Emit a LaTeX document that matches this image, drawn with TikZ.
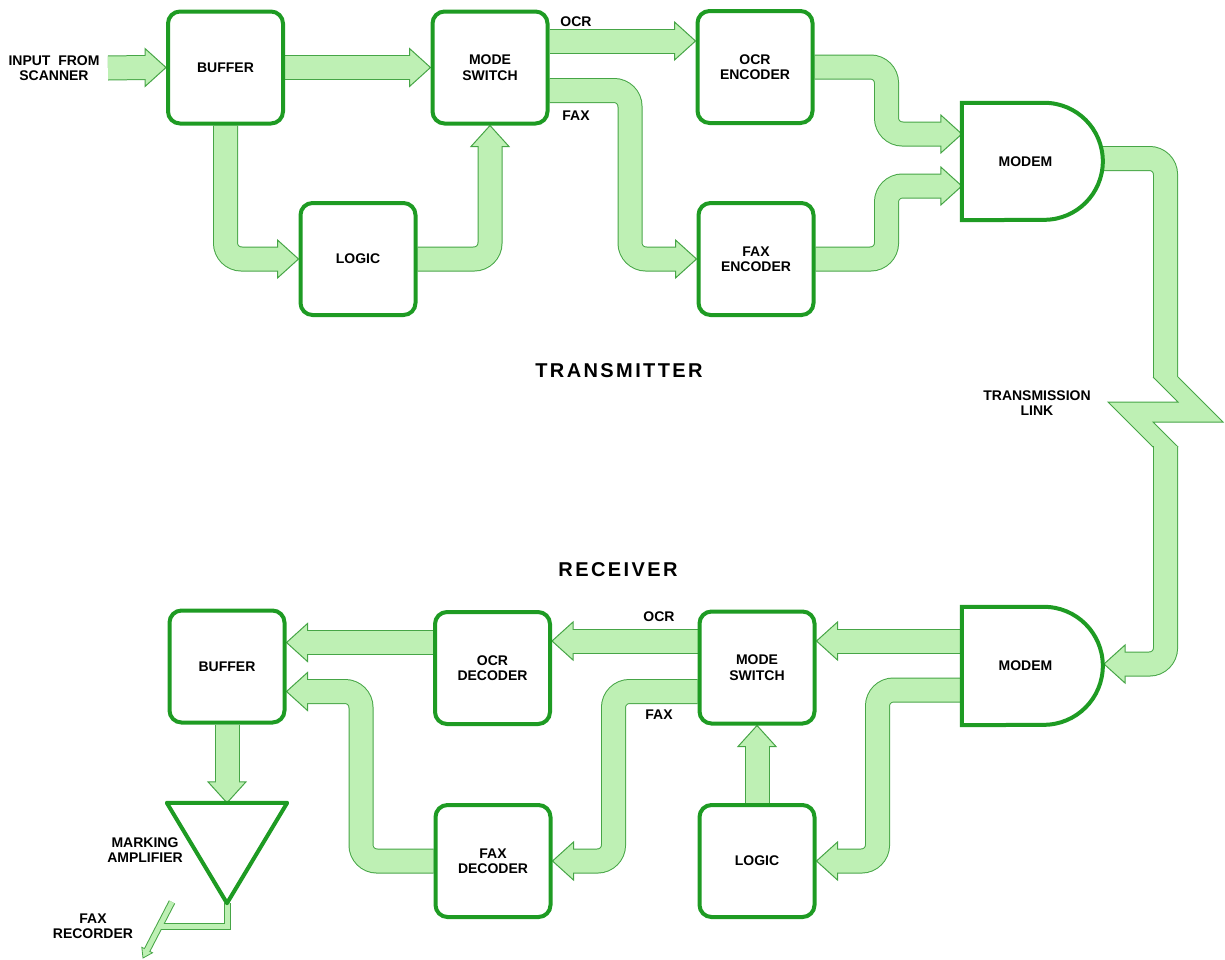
\documentclass[tikz,border=0pt]{standalone}
\usepackage{fontspec}
\setmainfont{Liberation Sans}
\newfontfamily\bigfont[LetterSpace=12]{Liberation Sans}
\usetikzlibrary{calc}
\pgfdeclarelayer{bg}
\pgfsetlayers{bg,main}
\definecolor{boxg}{RGB}{30,155,35}
\definecolor{bandf}{RGB}{190,240,180}
\definecolor{bandl}{RGB}{70,165,70}
\newcommand\AL{21}
\newcommand\AH{19}
\newcommand\bandarrow[4]{%
  \path (#3) ++({-\AL*(#1)},{-\AL*(#2)}) coordinate (bb);
  \draw[bandouter] #4 (bb);
  \filldraw[bandhead] (#3) -- ($(bb)+({\AH*(#2)},{-\AH*(#1)})$) -- ($(bb)+({-\AH*(#2)},{\AH*(#1)})$) -- cycle;
  \draw[bandinner, shorten >=-1.5pt] #4 (bb);
}
\tikzset{
  box/.style={draw=boxg, line width=4pt, rounded corners=12pt, fill=white,
    minimum width=115pt, minimum height=112pt, align=center, font=\lblfont},
  hold/.style={draw=none, inner sep=0pt},
  boxline/.style={draw=boxg, fill=white, line width=4pt},
  lbl/.style={align=center, font=\lblfont},
  big/.style={font=\bigfont\fontsize{20}{24}\selectfont\bfseries},
  bandouter/.style={line width=25pt, draw=bandl, rounded corners=16pt},
  bandinner/.style={line width=23pt, draw=bandf, rounded corners=16pt},
  bandhead/.style={fill=bandf, draw=bandl, line width=1pt, line join=miter},
  thinout/.style={line width=7pt, draw=bandl},
  thinin/.style={line width=5pt, draw=bandf},
}
\newcommand\lblfont{\fontsize{14}{15.5}\selectfont\bfseries}
\begin{document}
\begin{tikzpicture}[x=1pt,y=1pt]
\useasboundingbox (0,0) rectangle (1225,-959);
% transmitter nodes
\node[box] (bufA) at (225.5,-67.5) {BUFFER};
\node[box] (msA) at (490,-67.5) {MODE\\SWITCH};
\node[box] (lgcA) at (358,-259) {LOGIC};
\node[box] (ocre) at (755,-67) {OCR\\ENCODER};
\node[box] (faxe) at (756,-259) {FAX\\ENCODER};
\node[hold, minimum width=141pt, minimum height=117pt] (modA) at (1032.5,-161.5) {};
\draw[boxline] (modA.south west) -- (modA.north west) -- ++(82.5,0) arc[start angle=90,end angle=-90,radius=58.5] -- cycle;
\node[lbl] (modAt) at ($(modA.center)+(-7,0)$) {MODEM};
% receiver nodes
\node[box] (bufB) at (227,-666.5) {BUFFER};
\node[box] (ocrd) at (492.5,-668) {OCR\\DECODER};
\node[box] (faxd) at (493,-861) {FAX\\DECODER};
\node[box] (msB) at (757,-667.5) {MODE\\SWITCH};
\node[box] (lgcB) at (757,-861) {LOGIC};
\node[hold, minimum width=141pt, minimum height=118pt] (modB) at (1032.5,-666) {};
\draw[boxline] (modB.south west) -- (modB.north west) -- ++(82,0) arc[start angle=90,end angle=-90,radius=59] -- cycle;
\node[lbl] (modBt) at ($(modB.center)+(-7,0)$) {MODEM};
\node[hold, minimum width=120pt, minimum height=100pt] (amp) at (227,-853) {};
\draw[boxline, line join=round] (amp.north west) -- (amp.north east) -- (amp.south) -- cycle;
% labels
\node[lbl] (inlbl) at (54,-68) {INPUT\ \ FROM\\SCANNER};
\node[lbl] (tocr) at (576,-22) {OCR};
\node[lbl] (tfax) at (576,-116) {FAX};
\node[big] (ttx) at (619,-371) {TRANSMITTER};
\node[big] (trx) at (618,-570) {RECEIVER};
\node[lbl] (tlink) at (1037,-403) {TRANSMISSION\\LINK};
\node[lbl] (rocr) at (659,-617) {OCR};
\node[lbl] (rfax) at (659,-715) {FAX};
\node[lbl] (tamp) at (145,-850) {MARKING\\AMPLIFIER};
\node[lbl] (trec) at (93,-926) {FAX\\RECORDER};
\coordinate (inp) at (108,-68);
\coordinate (rec) at (143,-958);
\coordinate (recs) at (172,-902);
\begin{pgfonlayer}{bg}
% transmitter bands
\bandarrow{1}{0}{bufA.west}{(inp) --}
\bandarrow{1}{0}{msA.west}{(bufA.east) --}
\bandarrow{1}{0}{lgcA.west}{(bufA.south) -- (bufA.south |- lgcA.west) --}
\bandarrow{0}{1}{msA.south}{(lgcA.east) -- (lgcA.east -| msA.south) --}
\bandarrow{1}{0}{$(ocre.west)+(0,26)$}{($(msA.east)+(0,26.5)$) --}
\bandarrow{1}{0}{faxe.west}{($(msA.east)+(0,-23)$) -- (630,-90.5) -- (630,-259) --}
\bandarrow{1}{0}{$(modA.west)+(0,27.5)$}{(ocre.east) -- (886.5,-67) -- (886.5,-134) --}
\bandarrow{1}{0}{$(modA.west)+(0,-24.5)$}{(faxe.east) -- (886.5,-259) -- (886.5,-186) --}
% transmission link
\draw[bandouter] (1095,-158.5) -- (1165.5,-158.5) -- (1165.5,-378);
\draw[bandinner] (1095,-158.5) -- (1165.5,-158.5) -- (1165.5,-379);
\fill[bandf] (1153,-377) -- (1178,-402) -- (1108,-402) -- (1153,-447) -- (1178,-447) -- (1153,-422) -- (1223,-422) -- (1178,-377) -- cycle;
\draw[bandl, line width=1pt] (1153,-377) -- (1178,-402) -- (1108,-402) -- (1153,-447);
\draw[bandl, line width=1pt] (1178,-377) -- (1223,-422) -- (1153,-422) -- (1178,-447);
\bandarrow{-1}{0}{1104,-664}{(1165.5,-446) -- (1165.5,-664) --}
% receiver bands
\bandarrow{-1}{0}{$(msB.east)+(0,26.5)$}{($(modB.west)+(0,25)$) --}
\bandarrow{-1}{0}{lgcB.east}{($(modB.west)+(0,-24)$) -- (877.5,-690) -- (877.5,-861) --}
\bandarrow{0}{1}{msB.south}{(lgcB.north) --}
\bandarrow{-1}{0}{$(ocrd.east)+(0,27)$}{($(msB.west)+(0,26.5)$) --}
\bandarrow{-1}{0}{faxd.east}{($(msB.west)+(0,-24)$) -- (613.5,-691.5) -- (613.5,-861) --}
\bandarrow{-1}{0}{$(bufB.east)+(0,24)$}{($(ocrd.west)+(0,25.5)$) --}
\bandarrow{-1}{0}{$(bufB.east)+(0,-25)$}{(faxd.west) -- (361,-861) -- (361,-691.5) --}
\bandarrow{0}{-1}{amp.north}{(bufB.south) --}
% amplifier output to fax recorder
\draw[thinout] (amp.south) -- (227,-926) -- (160,-926);
\draw[thinout] (recs) -- ($(rec)!8pt!(recs)$);
\filldraw[bandhead, line width=0.8pt] (rec) -- ($($(rec)!9pt!(recs)$)!6pt!90:(rec)$) -- ($($(rec)!9pt!(recs)$)!6pt!-90:(rec)$) -- cycle;
\draw[thinin] (amp.south) -- (227,-926) -- (160,-926);
\draw[thinin, shorten >=-1pt] (recs) -- ($(rec)!9pt!(recs)$);
\end{pgfonlayer}
\end{tikzpicture}
\end{document}
